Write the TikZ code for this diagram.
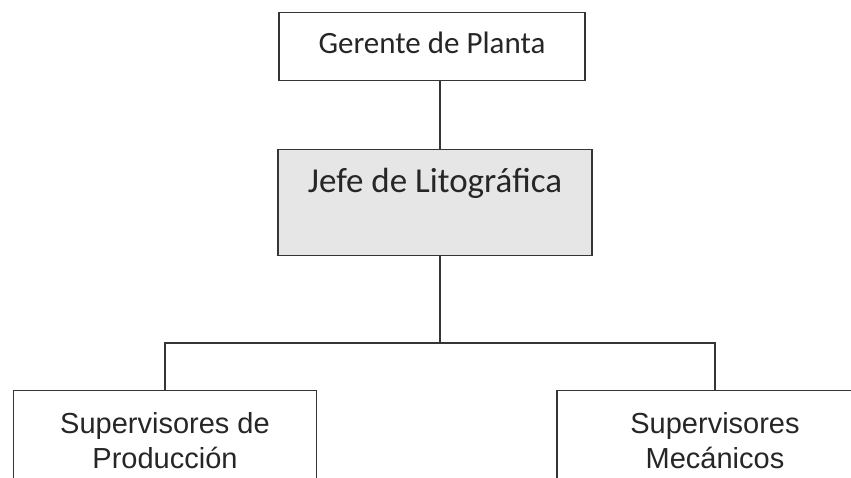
\documentclass[tikz,border=0pt]{standalone}
\usepackage{fontspec}
\setmainfont{Carlito}
\newfontfamily\arialfont{Liberation Sans}
\definecolor{linea}{HTML}{353535}
\definecolor{texto}{HTML}{262626}
\definecolor{gris}{HTML}{E6E6E6}
\begin{document}
\begin{tikzpicture}[x=1pt, y=-1pt]
    % Styles
    \tikzstyle{cargo} = [rectangle, draw=linea, line width=1.4pt, text=texto, inner sep=0pt, font=\fontsize{31}{37}\selectfont]
    \tikzstyle{supervisor} = [cargo, font=\arialfont\fontsize{29}{35}\selectfont, align=center, minimum height=100pt, anchor=north]
    \tikzstyle{enlace} = [draw=linea, line width=1.4pt]

    \useasboundingbox (0,0) rectangle (851,477);
    \clip (0,0) rectangle (851,477);

    % Nodes
    \node[cargo, minimum width=306pt, text height=41pt, text depth=27pt, anchor=north] (gerente) at (432,12) {Gerente de Planta};
    \node[cargo, fill=gris, minimum width=314pt, text height=43pt, text depth=63pt, anchor=north, font=\fontsize{35}{42}\selectfont] (jefe) at (435,149) {Jefe de Litográfica};
    \coordinate (ramal) at (440,343);
    \node[supervisor, minimum width=303pt] (produccion) at (165,390) {Supervisores de\\Producción};
    \node[supervisor, minimum width=316pt] (mecanicos) at (715,390) {Supervisores\\Mecánicos};

    % Lines
    \draw[enlace] (gerente.south -| ramal) -- (jefe.north -| ramal);
    \draw[enlace] (jefe.south -| ramal) -- (ramal);
    \draw[enlace] (produccion.north) |- (ramal) -| (mecanicos.north);
\end{tikzpicture}
\end{document}
